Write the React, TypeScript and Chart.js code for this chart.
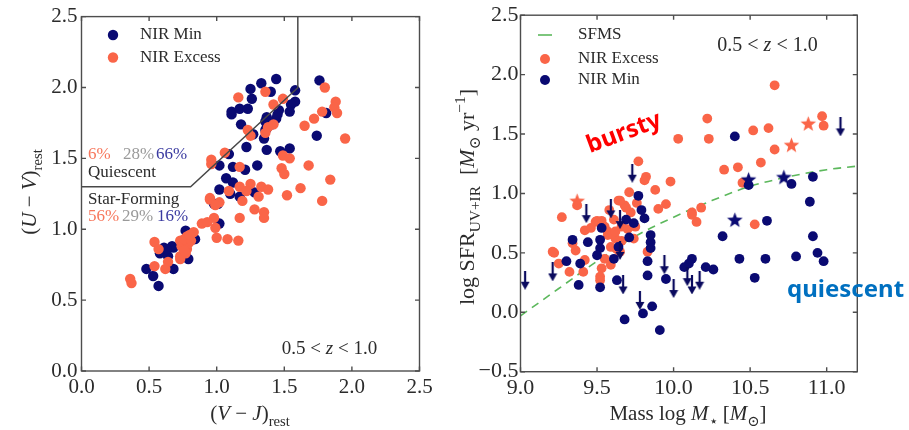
import React, { useEffect, useRef } from 'react';
import { Chart, registerables } from 'chart.js';
Chart.register(...registerables);

type P = [number, number];

// ---------- Left panel: UVJ diagram ----------
const uvjXTicks = [0, 0.5, 1.0, 1.5, 2.0, 2.5];
const uvjYTicks = [0, 0.5, 1.0, 1.5, 2.0, 2.5];
const uvjBox: P[] = [[0, 1.3], [0.807, 1.3], [1.6, 1.998], [1.6, 2.5]];

const uvjNirMin: P[] = [
  [1.44, 2.06], [1.33, 2.03], [1.25, 1.99], [1.40, 1.97], [1.58, 1.98], [1.76, 2.05], [1.26, 1.92], [1.58, 1.90],
  [1.55, 1.88], [1.11, 1.83], [1.17, 1.85], [1.23, 1.85], [1.11, 1.81], [1.46, 1.84], [1.44, 1.78], [1.37, 1.79],
  [1.41, 1.74], [1.18, 1.74], [1.36, 1.70], [1.27, 1.67], [1.35, 1.64], [1.74, 1.66], [1.81, 1.82], [1.22, 1.58],
  [1.37, 1.56], [1.47, 1.55], [1.54, 1.57], [1.09, 1.53], [1.02, 1.45], [1.12, 1.44], [1.21, 1.42], [1.30, 1.45],
  [1.07, 1.36], [1.12, 1.33], [1.02, 1.28], [1.10, 1.25], [1.17, 1.23], [1.28, 1.26], [0.98, 1.18], [1.01, 1.18],
  [1.02, 1.04], [0.77, 0.99], [0.84, 0.93], [0.61, 0.87], [0.68, 0.87], [0.58, 0.83], [0.64, 0.81], [0.48, 0.72],
  [0.53, 0.67], [0.57, 0.60], [0.68, 0.72], [0.79, 0.79], [0.67, 0.88], [0.63, 0.86], [0.83, 0.93], [1.54, 1.83],
  [1.45, 1.81], [1.36, 1.76], [1.37, 1.71],
];

const uvjNirExcess: P[] = [
  [1.16, 1.93], [1.36, 1.97], [1.49, 1.92], [1.80, 2.00], [1.88, 1.90], [1.89, 1.82], [1.87, 1.86], [1.78, 1.83],
  [1.72, 1.78], [1.65, 1.73], [1.95, 1.64], [1.42, 1.88], [1.42, 1.74], [1.38, 1.72], [1.23, 1.70], [1.36, 1.68],
  [1.25, 1.66], [1.49, 1.52], [1.54, 1.50], [1.17, 1.44], [1.48, 1.43], [1.68, 1.45], [1.50, 1.39], [1.84, 1.35],
  [1.06, 1.54], [0.96, 1.49], [0.96, 1.46], [1.17, 1.30], [1.25, 1.32], [1.22, 1.27], [1.33, 1.30], [1.38, 1.28],
  [1.31, 1.23], [1.62, 1.29], [1.52, 1.24], [1.78, 1.20], [1.19, 1.20], [1.09, 1.27], [0.95, 1.21], [1.02, 1.19],
  [1.28, 1.14], [1.35, 1.12], [1.17, 1.08], [1.35, 1.08], [0.98, 1.08], [0.89, 1.04], [0.93, 1.05], [0.99, 1.01],
  [1.00, 0.94], [1.08, 0.93], [1.16, 0.92], [0.83, 0.98], [0.78, 0.95], [0.73, 0.92], [0.74, 0.88], [0.78, 0.86],
  [0.73, 0.81], [0.77, 0.83], [0.79, 0.90], [0.76, 0.93], [0.81, 0.92], [0.54, 0.91], [0.57, 0.86], [0.64, 0.77],
  [0.62, 0.72], [0.54, 0.74], [0.36, 0.65], [0.37, 0.62], [0.73, 0.79], [0.76, 0.85], [0.80, 0.96], [0.95, 1.22],
  [0.99, 1.17],
];

// ---------- Right panel: SFR vs mass ----------
const sfrXTicks = [9.0, 9.5, 10.0, 10.5, 11.0];
const sfrYTicks = [-0.5, 0, 0.5, 1.0, 1.5, 2.0, 2.5];
const sfmsMass = [9.0, 9.25, 9.5, 9.75, 10.0, 10.25, 10.5, 10.75, 11.0, 11.2];
const sfmsSfr = [-0.03, 0.20, 0.43, 0.64, 0.80, 0.94, 1.06, 1.14, 1.20, 1.23];

const sfrNirExcess: P[] = [
  [10.66, 1.91], [10.22, 1.63], [10.23, 1.46], [10.03, 1.46], [10.52, 1.53], [10.62, 1.55], [10.66, 1.37], [10.97, 1.65],
  [10.98, 1.57], [10.57, 1.26], [10.42, 1.22], [10.33, 1.20], [10.45, 1.09], [9.77, 1.27], [9.82, 1.14], [9.81, 1.11],
  [9.88, 1.03], [9.98, 1.10], [9.71, 1.01], [9.95, 0.91], [9.90, 0.87], [10.18, 0.88], [10.12, 0.84], [9.64, 0.94],
  [9.68, 0.90], [9.58, 0.86], [9.37, 0.90], [9.27, 0.80], [9.22, 0.50], [9.25, 0.41], [9.32, 0.34], [9.34, 0.58],
  [9.36, 0.52], [9.41, 0.34], [9.42, 0.44], [9.42, 0.69], [9.46, 0.71], [9.49, 0.76], [9.53, 0.37], [9.52, 0.30],
  [9.55, 0.45], [9.59, 0.40], [9.59, 0.55], [9.62, 0.62], [9.57, 0.65], [9.55, 0.72], [9.61, 0.78], [9.66, 0.72],
  [9.65, 0.51], [9.75, 0.72], [9.74, 0.62], [9.83, 0.51], [10.12, 0.82], [10.15, 0.76], [10.53, 0.74], [9.21, 0.51],
  [9.50, 0.77], [9.53, 0.77], [9.57, 0.68], [9.60, 0.66], [9.62, 0.68], [9.66, 0.60], [9.70, 0.70], [9.76, 0.92],
  [9.72, 0.84], [9.69, 0.88], [9.65, 0.94], [9.52, 0.27], [9.63, 0.53],
];
const sfrNirExcessStars: P[] = [[9.37, 0.94], [10.77, 1.41], [10.88, 1.59]];

const sfrNirMin: P[] = [
  [10.40, 1.48], [10.49, 1.07], [10.77, 1.08], [10.91, 1.14], [10.89, 0.93], [9.77, 0.98], [9.79, 0.86], [10.61, 0.77],
  [10.32, 0.64], [10.91, 0.64], [10.94, 0.50], [10.98, 0.43], [10.80, 0.47], [10.60, 0.45], [10.43, 0.45], [10.53, 0.29],
  [10.26, 0.36], [10.21, 0.38], [10.12, 0.45], [10.10, 0.41], [10.07, 0.38], [9.95, 0.28], [9.86, 0.05], [9.80, -0.01],
  [9.68, -0.06], [9.91, -0.15], [9.83, 0.43], [9.83, 0.31], [9.85, 0.59], [9.85, 0.54], [9.85, 0.65], [9.81, 0.79],
  [9.71, 0.63], [9.69, 0.78], [9.74, 0.75], [9.64, 0.55], [9.61, 0.45], [9.63, 0.27], [9.53, 0.71], [9.52, 0.61],
  [9.52, 0.54], [9.50, 0.48], [9.52, 0.21], [9.44, 0.59], [9.34, 0.61], [9.30, 0.43], [9.39, 0.41], [9.38, 0.23],
];
const sfrNirMinStars: P[] = [[10.49, 1.12], [10.72, 1.14], [10.40, 0.78]];
const sfrUpperLimits: P[] = [
  [9.73, 1.17], [11.09, 1.56], [9.43, 0.83], [9.59, 0.87], [9.65, 0.78], [9.65, 0.52], [9.03, 0.27], [9.21, 0.34],
  [9.67, 0.23], [9.78, 0.10], [9.94, 0.40], [10.00, 0.20], [10.09, 0.30], [10.12, 0.23], [10.17, 0.27],
];

// ---------- styling ----------
const RED = '#fa6548';
const BLUE = '#0a0a72';
const GREEN = '#5cb85c';
const FRAME = '#4d4d4d';
const TEXT = '#2b2b2b';
const SERIF = '"Liberation Serif", "DejaVu Serif", serif';
const SANS = '"Noto Sans", "Open Sans", sans-serif';
const RIGHT_OFFSET = 450;

type Seg = { t: string; it?: boolean; sub?: boolean; sup?: boolean };
const segFont = (s: Seg, size: number) =>
  `${s.it ? 'italic ' : ''}${s.sub || s.sup ? size * 0.7 : size}px ${SERIF}`;

function drawRich(ctx: CanvasRenderingContext2D, segs: Seg[], x: number, y: number, size: number,
  color: string, align: 'center' | 'left' = 'center', rot = 0) {
  ctx.save();
  ctx.translate(x, y);
  if (rot) ctx.rotate(rot);
  ctx.fillStyle = color;
  ctx.textBaseline = 'alphabetic';
  ctx.textAlign = 'left';
  const ws = segs.map((s) => { ctx.font = segFont(s, size); return ctx.measureText(s.t).width; });
  const total = ws.reduce((a, b) => a + b, 0);
  let cx = align === 'center' ? -total / 2 : 0;
  segs.forEach((s, i) => {
    ctx.font = segFont(s, size);
    const dy = s.sub ? size * 0.28 : s.sup ? -size * 0.42 : 0;
    ctx.fillText(s.t, cx, dy);
    cx += ws[i];
  });
  ctx.restore();
}

function drawFrame(chart: any, xt: number[], yt: number[]) {
  const { ctx, chartArea: a, scales } = chart;
  ctx.save();
  ctx.strokeStyle = FRAME;
  ctx.lineWidth = 1.4;
  ctx.strokeRect(a.left, a.top, a.right - a.left, a.bottom - a.top);
  ctx.beginPath();
  const L = 4.5;
  xt.forEach((v) => {
    const px = scales.x.getPixelForValue(v);
    ctx.moveTo(px, a.bottom); ctx.lineTo(px, a.bottom - L);
    ctx.moveTo(px, a.top); ctx.lineTo(px, a.top + L);
  });
  yt.forEach((v) => {
    const py = scales.y.getPixelForValue(v);
    ctx.moveTo(a.left, py); ctx.lineTo(a.left + L, py);
    ctx.moveTo(a.right, py); ctx.lineTo(a.right - L, py);
  });
  ctx.stroke();
  ctx.restore();
}

function dot(ctx: CanvasRenderingContext2D, x: number, y: number, r: number, c: string) {
  ctx.beginPath(); ctx.arc(x, y, r, 0, Math.PI * 2); ctx.fillStyle = c; ctx.fill();
}

function text(ctx: CanvasRenderingContext2D, s: string, x: number, y: number, font: string, color: string,
  baseline: CanvasTextBaseline = 'alphabetic') {
  ctx.font = font; ctx.fillStyle = color; ctx.textAlign = 'left'; ctx.textBaseline = baseline;
  ctx.fillText(s, x, y);
}

function makeStar(color: string, size = 17) {
  const c = document.createElement('canvas');
  c.width = size; c.height = size;
  const g = c.getContext('2d')!;
  const R = size / 2 - 0.3, r = R * 0.42, cx = size / 2, cy = size / 2 + 0.9;
  g.beginPath();
  for (let i = 0; i < 10; i++) {
    const ang = -Math.PI / 2 + (i * Math.PI) / 5;
    const rad = i % 2 === 0 ? R : r;
    g.lineTo(cx + rad * Math.cos(ang), cy + rad * Math.sin(ang));
  }
  g.closePath(); g.fillStyle = color; g.fill();
  return c;
}

function makeArrow(color: string) {
  const w = 10, h = 19;
  const c = document.createElement('canvas');
  c.width = w; c.height = h;
  const g = c.getContext('2d')!;
  g.fillStyle = color;
  g.fillRect(w / 2 - 1.1, 0, 2.2, h - 6);
  g.beginPath(); g.moveTo(0.5, h - 8); g.lineTo(w - 0.5, h - 8); g.lineTo(w / 2, h); g.closePath(); g.fill();
  return c;
}

const toXY = (arr: P[]) => arr.map(([x, y]) => ({ x, y }));
const fmt = (v: number) => (v < 0 ? '−' + Math.abs(v).toFixed(1) : v.toFixed(1));

export default function App() {
  const leftRef = useRef<HTMLCanvasElement>(null);
  const rightRef = useRef<HTMLCanvasElement>(null);

  useEffect(() => {
    const leftDecor = {
      id: 'leftDecor',
      afterDraw(chart: any) {
        const ctx = chart.ctx as CanvasRenderingContext2D;
        drawFrame(chart, uvjXTicks, uvjYTicks);
        ctx.save();
        const f17 = `17px ${SERIF}`;
        dot(ctx, 113, 35, 5.2, BLUE);
        text(ctx, 'NIR Min', 140, 35, f17, TEXT, 'middle');
        dot(ctx, 113, 57.5, 5.2, RED);
        text(ctx, 'NIR Excess', 140, 57.5, f17, TEXT, 'middle');
        text(ctx, '6%', 88, 159, f17, '#f7775c');
        text(ctx, '28%', 123, 159, f17, '#9a9a9a');
        text(ctx, '66%', 156, 159, f17, '#3a3aa0');
        text(ctx, 'Quiescent', 88, 177, f17, TEXT);
        text(ctx, 'Star-Forming', 88, 204, f17, TEXT);
        text(ctx, '56%', 88, 221, f17, '#f7775c');
        text(ctx, '29%', 122, 221, f17, '#9a9a9a');
        text(ctx, '16%', 157, 221, f17, '#3a3aa0');
        drawRich(ctx, [{ t: '0.5 < ' }, { t: 'z', it: true }, { t: ' < 1.0' }], 329.5, 354, 19, TEXT);
        drawRich(ctx, [{ t: '(' }, { t: 'V', it: true }, { t: ' − ' }, { t: 'J', it: true }, { t: ')' }, { t: 'rest', sub: true }],
          250, 420, 21, TEXT);
        drawRich(ctx, [{ t: '(' }, { t: 'U', it: true }, { t: ' − ' }, { t: 'V', it: true }, { t: ')' }, { t: 'rest', sub: true }],
          36, 192, 21, TEXT, 'center', -Math.PI / 2);
        ctx.restore();
      },
    };

    const rightDecor = {
      id: 'rightDecor',
      afterDraw(chart: any) {
        const ctx = chart.ctx as CanvasRenderingContext2D;
        drawFrame(chart, sfrXTicks, sfrYTicks);
        ctx.save();
        const f17 = `17px ${SERIF}`;
        ctx.strokeStyle = GREEN; ctx.lineWidth = 1.6;
        ctx.beginPath(); ctx.moveTo(88, 35); ctx.lineTo(102, 35); ctx.stroke();
        text(ctx, 'SFMS', 128, 35, f17, TEXT, 'middle');
        dot(ctx, 95, 59, 5, RED);
        text(ctx, 'NIR Excess', 128, 59, f17, TEXT, 'middle');
        dot(ctx, 95, 80, 5, BLUE);
        text(ctx, 'NIR Min', 128, 80, f17, TEXT, 'middle');
        drawRich(ctx, [{ t: '0.5 < ' }, { t: 'z', it: true }, { t: ' < 1.0' }], 317.5, 51, 20, TEXT);
        drawRich(ctx, [{ t: 'Mass log ' }, { t: 'M', it: true }, { t: '⋆', sub: true }, { t: ' [' }, { t: 'M', it: true },
          { t: '⊙', sub: true }, { t: ']' }], 238, 420, 21, TEXT);
        drawRich(ctx, [{ t: 'log SFR' }, { t: 'UV+IR', sub: true }, { t: '  [' }, { t: 'M', it: true }, { t: '⊙', sub: true },
          { t: ' yr' }, { t: '−1', sup: true }, { t: ']' }], 24, 197, 22, TEXT, 'center', -Math.PI / 2);
        // annotations
        ctx.save();
        ctx.translate(174, 133);
        ctx.rotate(-20.5 * Math.PI / 180);
        ctx.font = `bold 24px ${SANS}`; ctx.fillStyle = '#ff0000';
        ctx.textAlign = 'center'; ctx.textBaseline = 'middle';
        ctx.fillText('bursty', 0, 0);
        ctx.restore();
        text(ctx, 'quiescent', 337, 290, `bold 24px ${SANS}`, '#0070c0', 'middle');
        ctx.restore();
      },
    };

    const tickFont = (size: number) => ({ family: SERIF, size });

    const left = new Chart(leftRef.current!, {
      type: 'scatter',
      data: {
        datasets: [
          { label: 'UVJ', data: toXY(uvjBox), showLine: true, borderColor: '#484848', borderWidth: 1.5, pointRadius: 0, order: 0 } as any,
          { label: 'NIR Excess', data: toXY(uvjNirExcess), pointBackgroundColor: RED, pointBorderColor: RED, pointBorderWidth: 0, pointRadius: 5.2, order: 1 },
          { label: 'NIR Min', data: toXY(uvjNirMin), pointBackgroundColor: BLUE, pointBorderColor: BLUE, pointBorderWidth: 0, pointRadius: 5.2, order: 2 },
        ],
      },
      options: {
        responsive: false,
        animation: false,
        layout: { padding: { left: 0, top: 14.3, right: 450 - 419.5, bottom: 0 } },
        plugins: { legend: { display: false }, tooltip: { enabled: false } },
        scales: {
          x: {
            type: 'linear', min: 0, max: 2.5,
            afterBuildTicks: (s: any) => { s.ticks = uvjXTicks.map((v) => ({ value: v })); },
            afterFit: (s: any) => { s.height = 430 - 371; },
            grid: { display: false, drawTicks: false }, border: { display: false },
            ticks: { font: tickFont(21), color: TEXT, padding: 4, autoSkip: false, maxRotation: 0, callback: (v: any) => fmt(Number(v)) },
          },
          y: {
            type: 'linear', min: 0, max: 2.5,
            afterBuildTicks: (s: any) => { s.ticks = uvjYTicks.map((v) => ({ value: v })); },
            afterFit: (s: any) => { s.width = 81.5; },
            grid: { display: false, drawTicks: false }, border: { display: false },
            ticks: { font: tickFont(21), color: TEXT, padding: 4, autoSkip: false, callback: (v: any) => fmt(Number(v)) },
          },
        },
      },
      plugins: [leftDecor],
    });

    const starRed = makeStar(RED);
    const starBlue = makeStar(BLUE);
    const arrow = makeArrow('#0a0a5e');

    const right = new Chart(rightRef.current!, {
      type: 'scatter',
      data: {
        datasets: [
          { label: 'SFMS', data: sfmsMass.map((m, i) => ({ x: m, y: sfmsSfr[i] })), showLine: true, borderColor: GREEN, borderWidth: 1.6,
            borderDash: [8, 6], pointRadius: 0, cubicInterpolationMode: 'monotone', order: 6 } as any,
          { label: 'NIR Excess', data: toXY(sfrNirExcess), pointBackgroundColor: RED, pointBorderColor: RED, pointBorderWidth: 0, pointRadius: 4.9, order: 5 },
          { label: 'NIR Excess stars', data: toXY(sfrNirExcessStars), pointStyle: starRed, pointRadius: 5, order: 4 } as any,
          { label: 'NIR Min', data: toXY(sfrNirMin), pointBackgroundColor: BLUE, pointBorderColor: BLUE, pointBorderWidth: 0, pointRadius: 4.9, order: 3 },
          { label: 'NIR Min stars', data: toXY(sfrNirMinStars), pointStyle: starBlue, pointRadius: 5, order: 2 } as any,
          { label: 'Upper limits', data: toXY(sfrUpperLimits), pointStyle: arrow, pointRadius: 5, order: 1 } as any,
        ],
      },
      options: {
        responsive: false,
        animation: false,
        layout: { padding: { left: 0, top: 15, right: 459 - (857.3 - RIGHT_OFFSET), bottom: 0 } },
        plugins: { legend: { display: false }, tooltip: { enabled: false } },
        scales: {
          x: {
            type: 'linear', min: 9.0, max: 11.2,
            afterBuildTicks: (s: any) => { s.ticks = sfrXTicks.map((v) => ({ value: v })); },
            afterFit: (s: any) => { s.height = 430 - 371.7; },
            grid: { display: false, drawTicks: false }, border: { display: false },
            ticks: { font: tickFont(22), color: TEXT, padding: 3, autoSkip: false, maxRotation: 0, callback: (v: any) => fmt(Number(v)) },
          },
          y: {
            type: 'linear', min: -0.5, max: 2.5,
            afterBuildTicks: (s: any) => { s.ticks = sfrYTicks.map((v) => ({ value: v })); },
            afterFit: (s: any) => { s.width = 520.5 - RIGHT_OFFSET; },
            grid: { display: false, drawTicks: false }, border: { display: false },
            ticks: { font: tickFont(22), color: TEXT, padding: 2, autoSkip: false, callback: (v: any) => fmt(Number(v)) },
          },
        },
      },
      plugins: [rightDecor],
    });

    return () => { left.destroy(); right.destroy(); };
  }, []);

  return (
    <div style={{ position: 'fixed', left: 0, top: 0, width: 909, height: 430, background: '#fff' }}>
      <canvas ref={leftRef} width={450} height={430} style={{ position: 'absolute', left: 0, top: 0, width: 450, height: 430 }} />
      <canvas ref={rightRef} width={459} height={430} style={{ position: 'absolute', left: RIGHT_OFFSET, top: 0, width: 459, height: 430 }} />
    </div>
  );
}
